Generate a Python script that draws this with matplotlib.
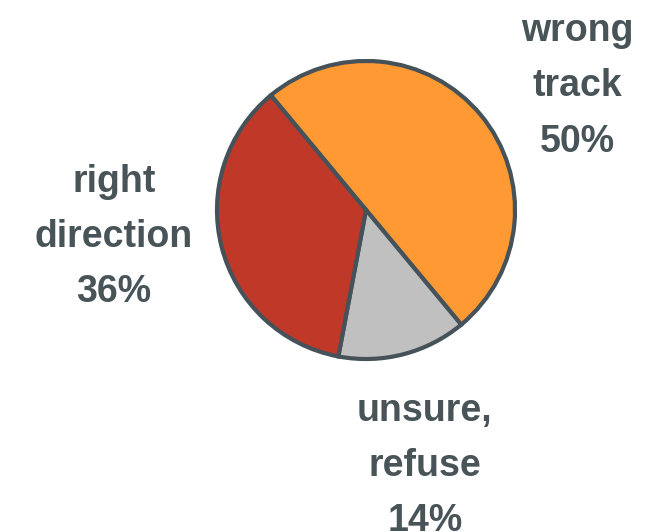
import matplotlib.pyplot as plt

# data
labels = ["wrong\ntrack\n50%", "unsure,\nrefuse\n14%", "right\ndirection\n36%"]
values = [50, 14, 36]
colors = ["#FF9933", "#C0C0C0", "#C03828"]

plt.rcParams['font.family'] = ['Liberation Sans', 'DejaVu Sans']
text_color = "#485458"

fig = plt.figure(figsize=(6.56, 5.32), dpi=100)
# square axes placed around the pie (center ~366,210 px, radius ~152 px)
ax = fig.add_axes([214 / 656, 170 / 532, 304 / 656, 304 / 532])

ax.pie(values, colors=colors, startangle=129.7, counterclock=False, radius=1,
       wedgeprops=dict(edgecolor="#45525A", linewidth=3))
ax.set_xlim(-1.02, 1.02)
ax.set_ylim(-1.02, 1.02)
ax.set_aspect("equal")
ax.axis("off")

# label positions (pixel -> data units)
def px(x, y):
    return (x - 366) / 152, (210 - y) / 152

label_pos = [px(582, 84), px(426, 471), px(109, 238)]
for lab, (x, y) in zip(labels, label_pos):
    ax.text(x, y, lab, ha="center", va="center", fontsize=27, fontweight="bold",
            color=text_color, linespacing=1.68, clip_on=False)

fig.savefig("out.png", dpi=100)
